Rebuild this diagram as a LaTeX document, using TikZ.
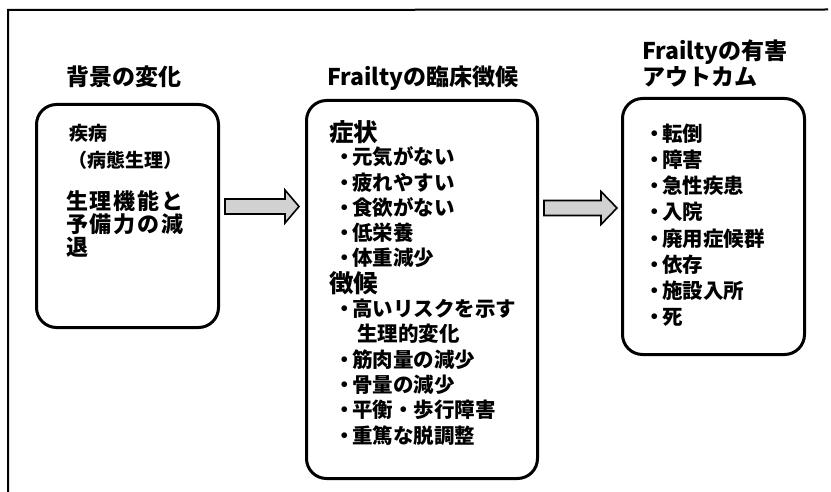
\documentclass[tikz,border=0pt]{standalone}
\usepackage{fontspec}
\newfontfamily\jp{Noto Sans CJK JP}[BoldFont={Noto Sans CJK JP Black}]
\usetikzlibrary{calc}
\newcommand\bul{\makebox[14pt]{\makebox[0pt]{・}}}
\begin{document}
\begin{tikzpicture}[x=1pt,y=-1pt,
  panel/.style={draw, line width=3pt, rounded corners=20pt, anchor=north west, inner sep=0pt},
  ttl/.style={anchor=west, inner sep=0pt, font=\jp\bfseries\fontsize{23}{27}\selectfont},
  itm/.style={anchor=west, inner sep=0pt, font=\jp\bfseries\fontsize{20.5}{24}\selectfont},
  head/.style={anchor=west, inner sep=0pt, font=\jp\bfseries\fontsize{24.5}{28}\selectfont},
  small/.style={anchor=west, inner sep=0pt, font=\jp\bfseries\fontsize{19}{22}\selectfont},
  big/.style={anchor=west, inner sep=0pt, font=\jp\bfseries\fontsize{22}{26}\selectfont\addfontfeature{LetterSpace=8}},
  blk/.style={draw, line width=1.6pt, fill=black!18, line join=miter}]
\useasboundingbox (0,0) rectangle (831,492);
% outer frame (partly cut off)
\draw[line width=2pt] (8,492) -- (8,10) -- (828,9.5);

% titles
\node[ttl] (t1) at (66,77) {背景の変化};
\node[ttl] (t2) at (327,78) {Frailtyの臨床徴候};
\node[ttl] (t3a) at (642,52) {Frailtyの有害};
\node[ttl] (t3b) at (642,77) {アウトカム};

% panels
\node[panel, minimum width=182pt, minimum height=223pt] (L) at (35,103) {};
\node[panel, minimum width=231pt, minimum height=378pt] (M) at (305,99) {};
\node[panel, minimum width=182pt, minimum height=256pt] (R) at (621,97) {};

% left panel text
\node[small] (l1) at (69,133) {疾病};
\node[small] (l2) at (68,160) {（病態生理）};
\node[big] (l3) at (66,201) {生理機能と};
\node[big] (l4) at (66,224) {予備力の減};
\node[big] (l5) at (66,247) {退};

% middle panel text
\node[head] (m0) at (329,131.7) {症状};
\node[itm] (m1) at (338,157.0) {\bul 元気がない};
\node[itm] (m2) at (338,182.3) {\bul 疲れやすい};
\node[itm] (m3) at (338,207.6) {\bul 食欲がない};
\node[itm] (m4) at (338,232.9) {\bul 低栄養};
\node[itm] (m5) at (338,258.2) {\bul 体重減少};
\node[head] (m6) at (329,283.5) {徴候};
\node[itm] (m7) at (338,308.8) {\bul 高いリスクを示す};
\node[itm] (m8) at (357,334.1) {生理的変化};
\node[itm] (m9) at (338,359.4) {\bul 筋肉量の減少};
\node[itm] (m10) at (338,384.7) {\bul 骨量の減少};
\node[itm] (m11) at (338,410.0) {\bul 平衡・歩行障害};
\node[itm] (m12) at (338,435.3) {\bul 重篤な脱調整};

% right panel text
\node[itm] (r1) at (648,133.3) {\bul 転倒};
\node[itm] (r2) at (648,159.5) {\bul 障害};
\node[itm] (r3) at (648,185.8) {\bul 急性疾患};
\node[itm] (r4) at (648,212.0) {\bul 入院};
\node[itm] (r5) at (648,238.3) {\bul 廃用症候群};
\node[itm] (r6) at (648,264.5) {\bul 依存};
\node[itm] (r7) at (648,290.8) {\bul 施設入所};
\node[itm] (r8) at (648,317.0) {\bul 死};

% block arrows
\coordinate (a1s) at ($(L.east |- 0,206.5)+(5,0)$);
\coordinate (a1e) at ($(M.west |- 0,206.5)+(-6,0)$);
\coordinate (a2s) at ($(M.east |- 0,208)+(5,0)$);
\coordinate (a2e) at ($(R.west |- 0,208)+(-4,0)$);
\draw[blk] let \p1=(a1s), \p2=(a1e) in
  (\x1,\y1+7.5pt) -- (\x2-14pt,\y1+7.5pt) -- (\x2-14pt,\y1+16.5pt) -- (\x2,\y1)
  -- (\x2-14pt,\y1-16.5pt) -- (\x2-14pt,\y1-7.5pt) -- (\x1,\y1-7.5pt) -- cycle;
\draw[blk] let \p1=(a2s), \p2=(a2e) in
  (\x1,\y1+7.5pt) -- (\x2-16pt,\y1+7.5pt) -- (\x2-16pt,\y1+16.5pt) -- (\x2,\y1)
  -- (\x2-16pt,\y1-16.5pt) -- (\x2-16pt,\y1-7.5pt) -- (\x1,\y1-7.5pt) -- cycle;
\end{tikzpicture}
\end{document}
